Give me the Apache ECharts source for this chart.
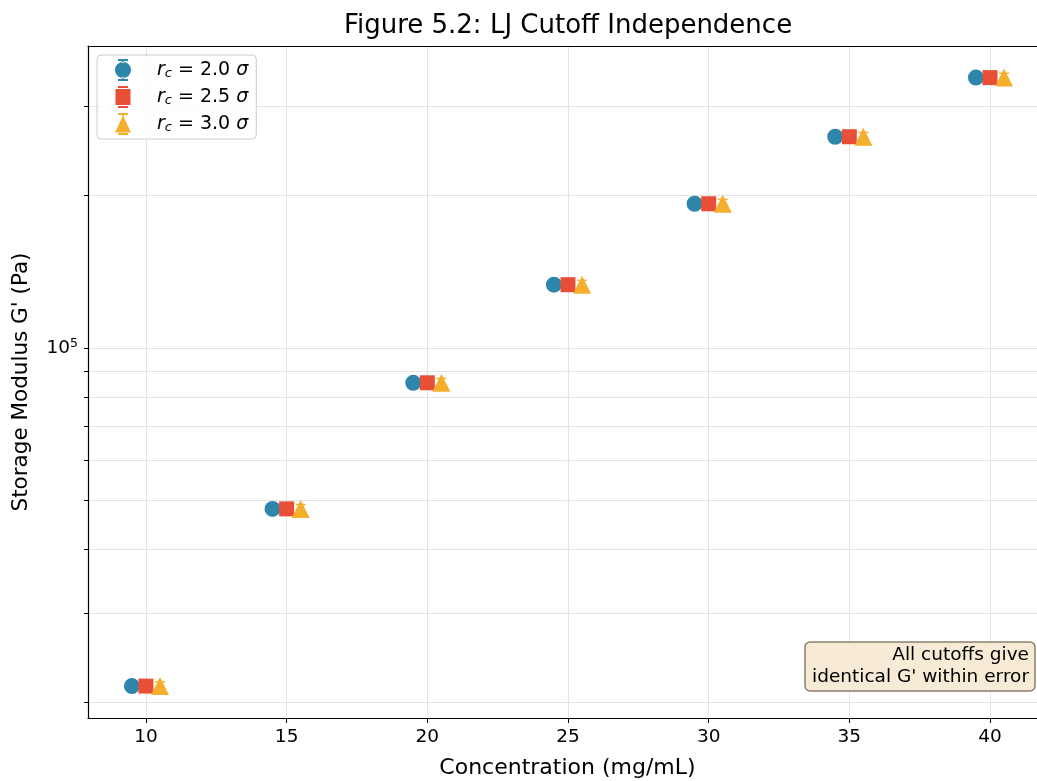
<!DOCTYPE html>
<html>
<head>
<meta charset="utf-8">
<script src="https://cdn.jsdelivr.net/npm/echarts@6/dist/echarts.min.js"></script>
<style>html,body{margin:0;padding:0;background:#fff;}#c{width:1037px;height:781px;}</style>
</head>
<body>
<div id="c"></div>
<script>
// ---- data ----
const concentrations = [10, 15, 20, 25, 30, 35, 40];
const seriesNames = ['rc20', 'rc25', 'rc30'];
const seriesLabels = ['2.0', '2.5', '3.0'];
const gRc20 = [21500, 48100, 85300, 133200, 192400, 260900, 341300];
const gRc25 = [21500, 48100, 85300, 133200, 192400, 260900, 341300];
const gRc30 = [21500, 48100, 85300, 133200, 192400, 260900, 341300];
const errRc20 = [430, 960, 1700, 2660, 3850, 5200, 6800];
const errRc25 = [430, 960, 1700, 2660, 3850, 5200, 6800];
const errRc30 = [430, 960, 1700, 2660, 3850, 5200, 6800];
const xTicks = [10, 15, 20, 25, 30, 35, 40];
const yTicks = [20000, 30000, 40000, 50000, 60000, 70000, 80000, 90000, 100000, 200000, 300000];
const yLabelTicks = [100000];

// ---- style ----
const colors = ['#2E86AB', '#E94F37', '#F6AE2D'];
const dodge = [-0.5, 0, 0.5];
const symbols = ['circle', 'rect', 'triangle'];
const sizes = [16, 15, 18];
const legendIcons = [
  'path://M3,0h10v2h-10z M7.2,0h1.6v4h-1.6z M7.2,18h1.6v4h-1.6z M3,20h10v2h-10z M0,11a8,8 0 1,0 16,0a8,8 0 1,0 -16,0z',
  'path://M3,0h10v2h-10z M3,20h10v2h-10z M0.5,3h15v16h-15z',
  'path://M3,0h10v2h-10z M7.2,0h1.6v4h-1.6z M3,20h10v2h-10z M8,2.5L16,19.5h-16z'
];
const values = [gRc20, gRc25, gRc30];
const errs = [errRc20, errRc25, errRc30];

const FONT = 'DejaVu Sans';
const xMin = 7.94, xMax = 41.67;
const yMin = 18600, yMax = 394000;

const series = [];
for (let s = 0; s < 3; s++) {
  const pts = concentrations.map((c, i) => [c + dodge[s], values[s][i], errs[s][i]]);
  series.push({
    type: 'custom',
    name: seriesNames[s] + '_err',
    data: pts,
    renderItem: function (params, api) {
      const x = api.value(0), y = api.value(1), e = api.value(2);
      const top = api.coord([x, y + e]);
      const bot = api.coord([x, y - e]);
      const cw = 5;
      const st = { stroke: colors[s], lineWidth: 1.5 };
      return {
        type: 'group',
        children: [
          { type: 'line', shape: { x1: top[0], y1: top[1], x2: bot[0], y2: bot[1] }, style: st },
          { type: 'line', shape: { x1: top[0] - cw, y1: top[1], x2: top[0] + cw, y2: top[1] }, style: st },
          { type: 'line', shape: { x1: bot[0] - cw, y1: bot[1], x2: bot[0] + cw, y2: bot[1] }, style: st }
        ]
      };
    },
    silent: true
  });
  series.push({
    type: 'scatter',
    name: seriesNames[s],
    data: pts.map(p => [p[0], p[1]]),
    symbol: symbols[s],
    symbolSize: sizes[s],
    itemStyle: { color: colors[s], opacity: 1 }
  });
}

const chart = echarts.init(document.getElementById('c'), null, { renderer: 'canvas' });
chart.setOption({
  animation: false,
  textStyle: { fontFamily: FONT },
  grid: { left: 88, top: 46, right: 0, bottom: 63, containLabel: false, outerBoundsMode: 'none' },
  xAxis: [{
    type: 'value', min: xMin, max: xMax,
    name: 'Concentration (mg/mL)', nameLocation: 'middle', nameGap: 39,
    nameTextStyle: { fontSize: 22, color: '#000', fontFamily: FONT, padding: [0, 0, 0, 10] },
    axisLine: { show: true, onZero: false, lineStyle: { color: '#000', width: 1.2 } },
    axisTick: { show: true, length: 5, customValues: xTicks, lineStyle: { color: '#000' } },
    axisLabel: { customValues: xTicks, fontSize: 18.5, color: '#000', margin: 10, fontFamily: FONT },
    splitLine: { show: true, lineStyle: { color: '#e3e3e3', width: 1 } }
  }, {
    type: 'value', min: xMin, max: xMax, position: 'top',
    axisLine: { show: true, onZero: false, lineStyle: { color: '#000', width: 1.2 } },
    axisTick: { show: false }, axisLabel: { show: false }, splitLine: { show: false }
  }],
  yAxis: {
    type: 'log', logBase: 10, min: yMin, max: yMax,
    name: "Storage Modulus G' (Pa)", nameLocation: 'middle', nameGap: 56,
    nameTextStyle: { fontSize: 21.5, color: '#000', fontFamily: FONT },
    axisLine: { show: true, onZero: false, lineStyle: { color: '#000', width: 1.2 } },
    axisTick: { show: true, length: 4, customValues: yTicks, lineStyle: { color: '#000' } },
    axisLabel: {
      customValues: yLabelTicks, margin: 10, color: '#000', fontFamily: FONT,
      formatter: function (v) { return '{b|10}{s|5}'; },
      rich: { b: { fontSize: 18.5, fontFamily: FONT, color: '#000' }, s: { fontSize: 12.5, fontFamily: FONT, color: '#000', verticalAlign: 'top', padding: [0, 0, 9, 0] } }
    },
    splitLine: { show: true, lineStyle: { color: '#e3e3e3', width: 1 } },
    minorTick: { show: false }
  },
  legend: {
    left: 97, top: 55, orient: 'vertical',
    data: seriesNames.map((n, i) => ({ name: n, icon: legendIcons[i] })),
    itemWidth: 16, itemHeight: 22, itemGap: 5,
    padding: [4, 8, 4, 18],
    backgroundColor: 'rgba(255,255,255,0.8)', borderColor: '#cccccc', borderWidth: 1, borderRadius: 4,
    formatter: function (name) {
      const i = seriesNames.indexOf(name);
      return '{i|r}{sub|c}{t| = ' + seriesLabels[i] + ' }{i|σ}';
    },
    textStyle: {
      padding: [0, 0, 0, 21],
      rich: {
        i: { fontSize: 19, fontStyle: 'italic', fontFamily: FONT, color: '#000' },
        sub: { fontSize: 13, fontStyle: 'italic', fontFamily: FONT, color: '#000', verticalAlign: 'bottom', padding: [7, 0, 0, 0] },
        t: { fontSize: 19, fontFamily: FONT, color: '#000' }
      }
    }
  },
  graphic: [
    {
      type: 'text', x: 568, y: 26,
      style: { text: 'Figure 5.2: LJ Cutoff Independence', font: '26px "DejaVu Sans"', fill: '#000', align: 'center', verticalAlign: 'middle' }
    },
    {
      type: 'rect', shape: { x: 805, y: 642, width: 230, height: 49, r: 5 },
      style: { fill: '#F7EBD5', stroke: '#8a8070', lineWidth: 1.5 }, z: 100
    },
    {
      type: 'text', x: 1029, y: 655, z: 101,
      style: { text: 'All cutoffs give', font: '18.5px "DejaVu Sans"', fill: '#000', align: 'right', verticalAlign: 'middle' }
    },
    {
      type: 'text', x: 1029, y: 677, z: 101,
      style: { text: "identical G' within error", font: '18.5px "DejaVu Sans"', fill: '#000', align: 'right', verticalAlign: 'middle' }
    }
  ],
  series: series
});
</script>
</body>
</html>
